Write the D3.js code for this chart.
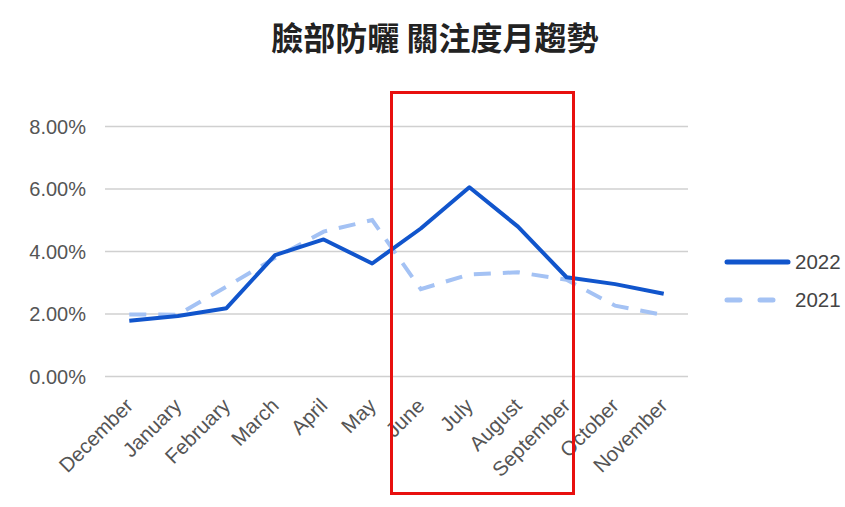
<!DOCTYPE html>
<html><head><meta charset="utf-8">
<script src="https://cdn.jsdelivr.net/npm/d3@7/dist/d3.min.js"></script>
<style>body{margin:0;background:#fff}svg{display:block}</style>
</head><body>
<svg id="c" width="845" height="507"></svg>
<script>
const categories = ["December","January","February","March","April","May","June","July","August","September","October","November"];
const series2022 = [1.77,1.92,2.17,3.87,4.37,3.60,4.72,6.04,4.78,3.16,2.94,2.63];
const series2021 = [1.97,1.96,2.86,3.78,4.62,4.99,2.78,3.25,3.32,3.08,2.25,1.95];
const yTicks = [0,2,4,6,8];
const title = "臉部防曬 關注度月趨勢";

const svg = d3.select("#c");
const L = 105, R = 688, T = 126, B = 376;
const x = d3.scaleBand().domain(categories).range([L, R]);
const y = d3.scaleLinear().domain([0, 8]).range([B, T]);

svg.append("text").attr("x", 435).attr("y", 50).attr("text-anchor", "middle")
  .attr("font-family", "'Noto Sans CJK TC'").attr("font-weight", "bold").attr("font-size", 32)
  .attr("fill", "#222").text(title);

const yAxis = svg.append("g").attr("transform", `translate(${L},0)`)
  .call(d3.axisLeft(y).tickValues(yTicks).tickSize(-(R - L)).tickFormat(d => d.toFixed(2) + "%"));
yAxis.select(".domain").remove();
yAxis.selectAll(".tick line").attr("stroke", "#d0d0d0").attr("stroke-width", 1.5);
yAxis.selectAll(".tick text").attr("x", -19).attr("dy", "0.35em")
  .attr("font-family", "'Liberation Sans', Arial").attr("font-size", 20).attr("fill", "#555");

const xAxis = svg.append("g").attr("transform", `translate(0,${B})`)
  .call(d3.axisBottom(x).tickSize(0));
xAxis.select(".domain").remove();
xAxis.selectAll(".tick text")
  .attr("font-family", "'Liberation Sans', Arial").attr("font-size", 20.5).attr("fill", "#555")
  .attr("text-anchor", "end").attr("dy", null).attr("y", 0)
  .attr("transform", "translate(5,31) rotate(-45)");

const line = d3.line().x((d, i) => x(categories[i]) + x.bandwidth() / 2).y(d => y(d));

svg.append("path").datum(series2021).attr("d", line).attr("fill", "none")
  .attr("stroke", "#a4c2f4").attr("stroke-width", 4).attr("stroke-dasharray", "17,12");
svg.append("path").datum(series2022).attr("d", line).attr("fill", "none")
  .attr("stroke", "#1155cc").attr("stroke-width", 4).attr("stroke-linejoin", "round");

// legend
const leg = [{name:"2022", color:"#1155cc", dash:null, y:262},{name:"2021", color:"#a4c2f4", dash:"15,18", y:300}];
leg.forEach(d => {
  svg.append("line").attr("x1", 727).attr("x2", 788).attr("y1", d.y).attr("y2", d.y)
    .attr("stroke", d.color).attr("stroke-width", 5).attr("stroke-linecap", "round")
    .attr("stroke-dasharray", d.dash ? "13,20" : null);
  svg.append("text").attr("x", 795).attr("y", d.y).attr("dy", "0.36em")
    .attr("font-family", "'Liberation Sans', Arial").attr("font-size", 20.5).attr("fill", "#444").text(d.name);
});

// highlight box
svg.append("rect").attr("x", 391.5).attr("y", 92.5).attr("width", 182).attr("height", 401)
  .attr("fill", "none").attr("stroke", "#e8100f").attr("stroke-width", 3);
</script>
</body></html>
